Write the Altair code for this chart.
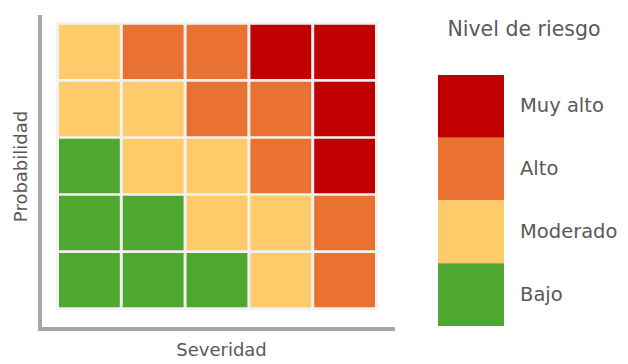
import altair as alt
import pandas as pd

# ---- data ----
severidad = ["1", "2", "3", "4", "5"]
probabilidad = ["5", "4", "3", "2", "1"]
matriz = [
    ["Moderado", "Alto", "Alto", "Muy alto", "Muy alto"],
    ["Moderado", "Moderado", "Alto", "Alto", "Muy alto"],
    ["Bajo", "Moderado", "Moderado", "Alto", "Muy alto"],
    ["Bajo", "Bajo", "Moderado", "Moderado", "Alto"],
    ["Bajo", "Bajo", "Bajo", "Moderado", "Alto"],
]
niveles = ["Muy alto", "Alto", "Moderado", "Bajo"]
colores = ["#C00000", "#E97132", "#FFCA69", "#4EA72E"]

FONT = "DejaVu Sans"
TXT = "#595959"
AXC = "#A6A6A6"

rows = []
for i, p in enumerate(probabilidad):
    for j, s in enumerate(severidad):
        rows.append({"Severidad": s, "Probabilidad": p, "Nivel": matriz[i][j]})
df = pd.DataFrame(rows)

color_scale = alt.Scale(domain=niveles, range=colores)

cells = alt.Chart(df).mark_rect().encode(
    x=alt.X("Severidad:O", sort=severidad,
            scale=alt.Scale(paddingInner=0.047, paddingOuter=0.047),
            axis=alt.Axis(title="Severidad", labels=False, ticks=False, domain=False,
                          titlePadding=31, titleFontSize=18, titleColor=TXT, titleX=165,
                          titleFont=FONT, titleFontWeight="normal")),
    y=alt.Y("Probabilidad:O", sort=probabilidad,
            scale=alt.Scale(paddingInner=0.047, paddingOuter=0.047),
            axis=alt.Axis(title="Probabilidad", labels=False, ticks=False, domain=False,
                          titlePadding=26, titleFontSize=18, titleColor=TXT,
                          titleFont=FONT, titleFontWeight="normal")),
    color=alt.Color("Nivel:N", scale=color_scale, legend=None),
)

one = pd.DataFrame({"k": [0]})
left_line = alt.Chart(one).mark_rule(color=AXC, strokeWidth=4).encode(
    x=alt.value(-16), y=alt.value(-7), y2=alt.value(309))
bottom_line = alt.Chart(one).mark_rule(color=AXC, strokeWidth=4).encode(
    y=alt.value(307), x=alt.value(-18), x2=alt.value(339))

main = alt.layer(cells, left_line, bottom_line).properties(
    width=322, height=288, view=alt.ViewBackground(fill="#F2F2F2", strokeWidth=0))

leg_df = pd.DataFrame({"Nivel": niveles})
ley_y = alt.Y("Nivel:N", sort=niveles,
              scale=alt.Scale(paddingInner=0, paddingOuter=0.422, align=1), axis=None)
swatch = alt.Chart(leg_df).mark_rect().encode(
    y=ley_y, color=alt.Color("Nivel:N", scale=color_scale, legend=None))
labels = alt.Chart(leg_df).mark_text(align="left", baseline="middle", fontSize=19.5,
                                     font=FONT, color=TXT).encode(
    y=ley_y, x=alt.value(82), text="Nivel:N")
titulo = alt.Chart(pd.DataFrame({"t": ["Nivel de riesgo"]})).mark_text(
    align="center", baseline="middle", fontSize=20.5, font=FONT, color=TXT).encode(
    x=alt.value(86), y=alt.value(8), text="t:N")

legend = alt.layer(swatch, labels, titulo).properties(
    width=66, height=304, view=alt.ViewBackground(strokeWidth=0))

chart = alt.hconcat(main, legend, spacing=41).properties(
    padding={"left": 4, "top": 5, "right": 0, "bottom": 0}).configure_view(strokeWidth=0)

chart.save("out.html", embed_options={"renderer": "svg", "actions": False})
